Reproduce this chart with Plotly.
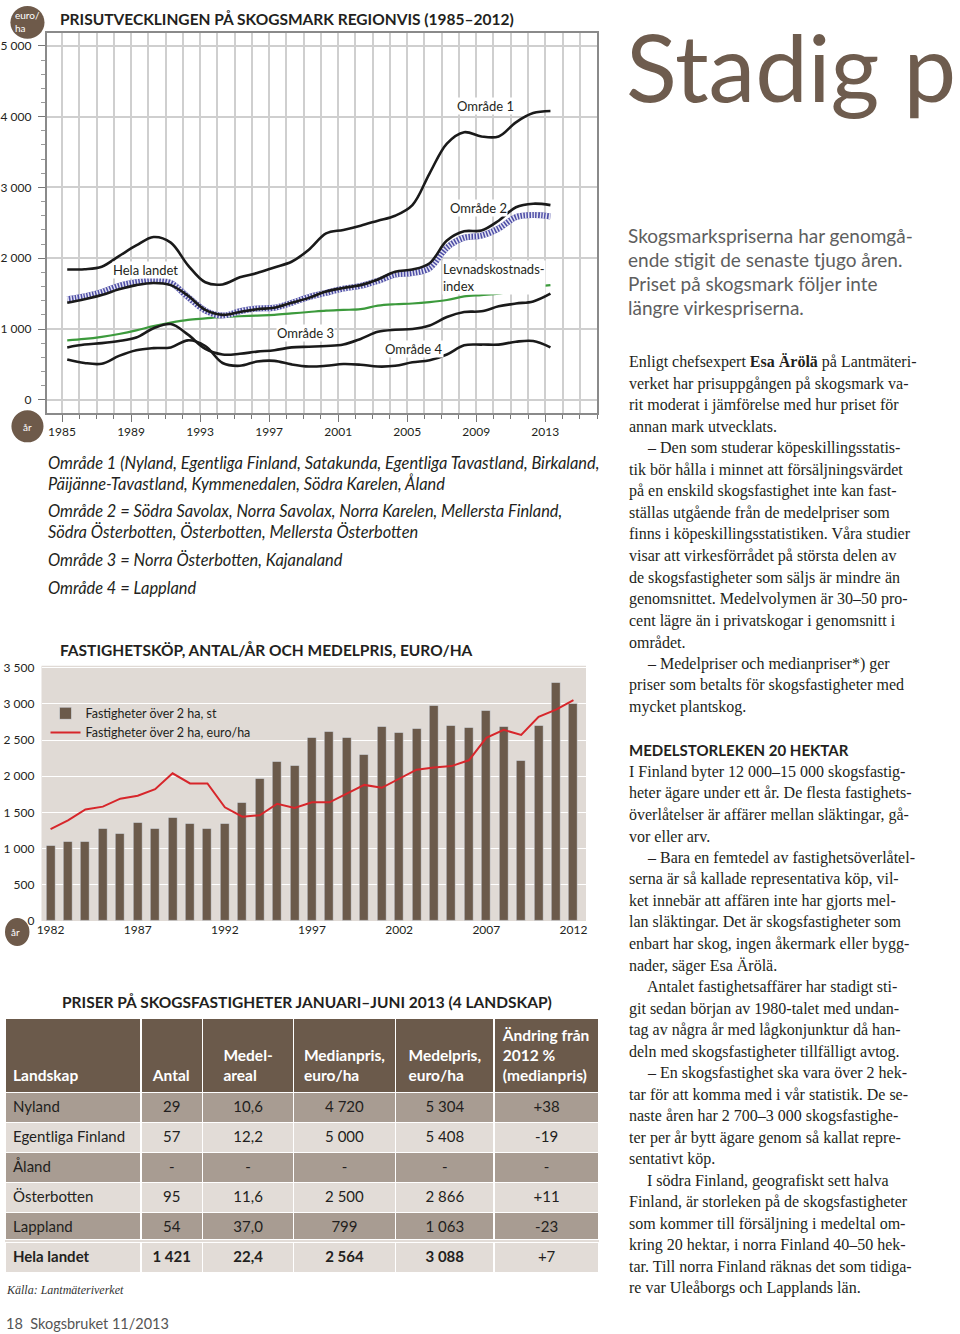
import plotly.graph_objects as go

W, H = 960, 1334
# empirical compensation of the page-capture placement (measured on earlier renders)
XA, XB = 0.991, 5.6
YA, YB = 0.989, 6.2


def px(x):
    return min(W, max(0.0, (x - XB) / XA)) / W


def py(y):
    return 1 - min(H, max(0.0, (y - YB) / YA)) / H


# ---------------- Top chart: price development per region ----------------
years_top = list(range(1985, 2014))
omrade1 = [1840, 1845, 1880, 2030, 2180, 2300, 2220, 1900, 1660, 1630, 1730, 1790, 1870, 1950,
           2120, 2350, 2400, 2460, 2530, 2600, 2750, 3200, 3620, 3780, 3720, 3720, 3920, 4050, 4080]
omrade2 = [1370, 1420, 1480, 1560, 1620, 1650, 1620, 1470, 1270, 1200, 1240, 1280, 1300, 1370,
           1440, 1530, 1580, 1620, 1700, 1810, 1840, 1930, 2250, 2380, 2390, 2530, 2720, 2770, 2750]
hela_landet = [1420, 1460, 1520, 1610, 1660, 1690, 1650, 1450, 1260, 1190, 1250, 1290, 1300, 1370,
               1450, 1510, 1570, 1610, 1680, 1770, 1790, 1860, 2150, 2290, 2320, 2420, 2580, 2610, 2590]
levnadskostnadsindex = [840, 860, 890, 930, 980, 1040, 1090, 1130, 1150, 1170, 1180, 1190, 1200, 1220,
                        1240, 1260, 1270, 1280, 1330, 1350, 1360, 1380, 1410, 1460, 1480, 1500, 1550, 1590, 1620]
omrade3 = [740, 780, 800, 830, 880, 1010, 1070, 920, 720, 640, 650, 680, 700, 740,
           750, 760, 780, 860, 960, 990, 1000, 1050, 1170, 1240, 1250, 1320, 1360, 1390, 1500]
omrade4 = [570, 520, 510, 620, 700, 730, 740, 840, 760, 520, 480, 540, 550, 500,
           470, 480, 505, 495, 470, 480, 530, 560, 640, 770, 780, 780, 820, 830, 740]
top_x_tickvals = [1985, 1989, 1993, 1997, 2001, 2005, 2009, 2013]
top_x_ticktext = ["1985", "1989", "1993", "1997", "2001", "2005", "2009", "2013"]
top_y_tickvals = [0, 1000, 2000, 3000, 4000, 5000]
top_y_ticktext = ["0", "1 000", "2 000", "3 000", "4 000", "5 000"]

# ---------------- Bar chart: purchases per year and mean price ----------------
years_bar = list(range(1982, 2013))
antal_fastigheter = [1040, 1100, 1090, 1270, 1210, 1360, 1270, 1430, 1340, 1270, 1350, 1640, 1970,
                     2200, 2140, 2530, 2620, 2540, 2300, 2680, 2600, 2660, 2980, 2700, 2670, 2900,
                     2680, 2220, 2700, 3300, 3000]
medelpris_euro_ha = [1270, 1390, 1540, 1580, 1690, 1730, 1820, 2040, 1900, 1900, 1570, 1440, 1460,
                     1620, 1560, 1640, 1640, 1760, 1880, 1840, 1970, 2090, 2120, 2140, 2220, 2530,
                     2640, 2570, 2820, 2920, 3050]
bar_x_tickvals = [1982, 1987, 1992, 1997, 2002, 2007, 2012]
bar_x_ticktext = ["1982", "1987", "1992", "1997", "2002", "2007", "2012"]
bar_y_tickvals = [0, 500, 1000, 1500, 2000, 2500, 3000, 3500]
bar_y_ticktext = ["0", "500", "1 000", "1 500", "2 000", "2 500", "3 000", "3 500"]

# ---------------- Table ----------------
landskap = ["Nyland", "Egentliga Finland", "Åland", "Österbotten", "Lappland", "Hela landet"]
antal = [29, 57, None, 95, 54, 1421]
medelareal = [10.6, 12.2, None, 11.6, 37.0, 22.4]
medianpris = [4720, 5000, None, 2500, 799, 2564]
medelpris = [5304, 5408, None, 2866, 1063, 3088]
andring = [38, -19, None, 11, -23, 7]
table_headers = [["", "", "Landskap"], ["", "", "Antal"], ["", "Medel-", "areal"],
                 ["", "Medianpris,", "euro/ha"], ["", "Medelpris,", "euro/ha"],
                 ["Ändring från", "2012 %", "(medianpris)"]]

SANS = "Lato"
SERIF = "Liberation Serif"
BROWN = "#6b5a4b"
TXT = "#231f20"
DARKROW = "#a89c92"
LIGHTROW = "#e2dcd7"


def fmt_int(v):
    if v is None:
        return "-"
    return f"{v:,}".replace(",", " ")


def fmt_dec(v):
    if v is None:
        return "-"
    return f"{v:.1f}".replace(".", ",")


def fmt_sign(v):
    if v is None:
        return "-"
    return f"{v:+d}"


fig = go.Figure()

xt = [y + 0.3 for y in years_top]
fig.add_trace(go.Scatter(x=xt, y=levnadskostnadsindex, mode="lines", line=dict(color="#3c9a3c", width=2.2, shape="spline"),
                         showlegend=False, xaxis="x", yaxis="y", hoverinfo="skip"))
fig.add_trace(go.Scatter(x=xt, y=hela_landet, mode="lines", line=dict(color="#4d4da6", width=6, shape="spline"),
                         showlegend=False, xaxis="x", yaxis="y", hoverinfo="skip"))
fig.add_trace(go.Scatter(x=xt, y=hela_landet, mode="lines",
                         line=dict(color="rgba(255,255,255,0.85)", width=6, shape="spline", dash="1.5px,1.5px"),
                         showlegend=False, xaxis="x", yaxis="y", hoverinfo="skip"))
for series in (omrade1, omrade2, omrade3, omrade4):
    fig.add_trace(go.Scatter(x=xt, y=series, mode="lines", line=dict(color="#1a1a1a", width=2.6, shape="spline"),
                             showlegend=False, xaxis="x", yaxis="y", hoverinfo="skip"))

fig.add_trace(go.Bar(x=years_bar, y=antal_fastigheter, name="Fastigheter över 2 ha, st", marker_color=BROWN,
                     width=0.52, xaxis="x2", yaxis="y2"))
fig.add_trace(go.Scatter(x=years_bar, y=medelpris_euro_ha, name="Fastigheter över 2 ha, euro/ha", mode="lines",
                         line=dict(color="#d7262b", width=2), xaxis="x2", yaxis="y2"))

columns = [
    landskap,
    [fmt_int(v) for v in antal],
    [fmt_dec(v) for v in medelareal],
    [fmt_int(v) for v in medianpris],
    [fmt_int(v) for v in medelpris],
    [fmt_sign(v) for v in andring],
]
nrow = len(landskap)
col_w = [136, 62, 91, 102, 99, 105]
aligns = ["left", "center", "center", "center", "center", "center"]
HDR_H, ROW_H, TOP = 72, 30, 1017
row_colors = [DARKROW if i % 2 == 0 else LIGHTROW for i in range(nrow - 1)]
header_vals = ["<br>".join(l if l else "\u00a0" for l in h) for h in table_headers]
total_top = TOP + (HDR_H + ROW_H * (nrow - 1)) * YA
fig.add_trace(go.Table(
    domain=dict(x=[px(2), px(598)], y=[py(total_top + 2), py(TOP)]),
    columnwidth=col_w,
    header=dict(values=header_vals,
                fill_color=BROWN, font=dict(family=SANS, size=15.5, color="white", weight=700),
                align=aligns, height=HDR_H, line=dict(color="white", width=1.5)),
    cells=dict(values=[c[:-1] for c in columns], fill_color=[row_colors] * 6,
               font=dict(family=SANS, size=15, color=TXT),
               align=aligns, height=ROW_H, line=dict(color="white", width=1.5)),
))
# total row (bold) as a separate one-row table with a hairline header
fig.add_trace(go.Table(
    domain=dict(x=[px(2), px(598)], y=[py(total_top + ROW_H + 8), py(total_top + 2.5)]),
    columnwidth=col_w,
    header=dict(values=[""] * 6, fill_color=LIGHTROW, height=2, line=dict(color=LIGHTROW, width=0)),
    cells=dict(values=[[c[-1]] for c in columns], fill_color=LIGHTROW,
               font=dict(family=SANS, size=15, color=TXT, weight=[700, 700, 700, 700, 700, 400]),
               align=aligns, height=ROW_H, line=dict(color="white", width=1.5)),
))

axis_font = dict(family=SANS, size=12, color=TXT)
fig.update_layout(
    width=W, height=H, autosize=False,
    margin=dict(l=0, r=0, t=0, b=0),
    paper_bgcolor="white", plot_bgcolor="white",
    showlegend=True,
    legend=dict(x=px(46), y=py(698), xanchor="left", yanchor="top", bgcolor="rgba(0,0,0,0)",
                font=dict(family=SANS, size=12.5, color=TXT), tracegroupgap=0, itemwidth=30),
    xaxis=dict(domain=[px(47), px(596)], anchor="y", range=[1984.1, 2016.0],
               tickmode="array", tickvals=top_x_tickvals, ticktext=top_x_ticktext,
               ticks="outside", ticklen=7, tickcolor="#777", showgrid=True, gridcolor="#cfcfcf", gridwidth=1.5,
               minor=dict(dtick=1, tick0=1985, ticks="outside", ticklen=4, tickcolor="#777", showgrid=True,
                          gridcolor="#cfcfcf", gridwidth=1.5),
               showline=True, linecolor="#8a8a8a", linewidth=1.5, mirror=True, zeroline=False,
               tickfont=axis_font, fixedrange=True),
    yaxis=dict(domain=[py(413), py(33)], anchor="x", range=[-191, 5184],
               tickmode="array", tickvals=top_y_tickvals, ticktext=top_y_ticktext,
               ticks="outside", ticklen=7, tickcolor="#777",
               minor=dict(dtick=200, tick0=0, ticks="outside", ticklen=4, tickcolor="#999", showgrid=False),
               showgrid=True, gridcolor="#cfcfcf", gridwidth=1.5, zeroline=False,
               showline=True, linecolor="#8a8a8a", linewidth=1.5, mirror=True,
               tickfont=axis_font, ticklabelstandoff=4, fixedrange=True),
    xaxis2=dict(domain=[px(42), px(585)], anchor="y2", range=[1981.48, 2012.72],
                tickmode="array", tickvals=bar_x_tickvals, ticktext=bar_x_ticktext,
                ticks="", showgrid=False, zeroline=False, showline=False, tickfont=axis_font, fixedrange=True),
    yaxis2=dict(domain=[py(920), py(665)], anchor="x2", range=[0, 3528],
                tickmode="array", tickvals=bar_y_tickvals, ticktext=bar_y_ticktext,
                ticks="", showgrid=True, gridcolor="white", gridwidth=1, zeroline=False, showline=False,
                tickfont=axis_font, ticklabelstandoff=6, fixedrange=True),
    bargap=0,
)

# bar chart background
fig.add_shape(type="rect", xref="x2 domain", yref="y2 domain", x0=0, x1=1, y0=0, y1=1,
              fillcolor="#e0dad5", line_width=0, layer="below")

# circles
for cx, cy, r in [(28, 22, 17), (28, 426, 16), (16, 931, 14)]:
    fig.add_shape(type="circle", xref="paper", yref="paper", x0=px(cx - r), x1=px(cx + r),
                  y0=py(cy + r), y1=py(cy - r), fillcolor="#6e5a4a", line_width=0)

annotations = []


def ann(x, y, text, size=12, family=SANS, color=TXT, xanchor="left", bg=None, yanchor="middle"):
    d = dict(x=px(x), y=py(y), xref="paper", yref="paper", text=text, showarrow=False, align="left",
             xanchor=xanchor, yanchor=yanchor, font=dict(family=family, size=size, color=color), borderpad=0)
    if bg:
        d["bgcolor"] = bg
    annotations.append(d)


ann(28, 22, "euro/<br>ha", size=10, color="white", xanchor="center")
ann(28, 427, "år", size=10, color="white", xanchor="center")
ann(16, 931, "år", size=10, color="white", xanchor="center")

ann(59, 19, "<b>PRISUTVECKLINGEN PÅ SKOGSMARK REGIONVIS (1985–2012)</b>", size=15.5)
ann(59, 649, "<b>FASTIGHETSKÖP, ANTAL/ÅR OCH MEDELPRIS, EURO/HA</b>", size=15.5)
ann(61, 1001, "<b>PRISER PÅ SKOGSFASTIGHETER JANUARI–JUNI 2013 (4 LANDSKAP)</b>", size=15.5)

# line labels in top chart
ann(455, 106, "Område 1", size=13, bg="white")
ann(448, 208, "Område 2", size=13, bg="white")
ann(112, 270, "Hela landet", size=13, bg="white")
ann(441, 277, "Levnadskostnads-<br>index", size=13, bg="white")
ann(276, 333, "Område 3", size=13, bg="white")
ann(384, 349, "Område 4", size=13, bg="white")

# region explanations
region_lines = [
    (462, "Område 1 (Nyland, Egentliga Finland, Satakunda, Egentliga Tavastland, Birkaland,"),
    (483, "Päijänne-Tavastland, Kymmenedalen, Södra Karelen, Åland"),
    (510, "Område 2 = Södra Savolax, Norra Savolax, Norra Karelen, Mellersta Finland,"),
    (531, "Södra Österbotten, Österbotten, Mellersta Österbotten"),
    (559, "Område 3 = Norra Österbotten, Kajanaland"),
    (587, "Område 4 = Lappland"),
]
for y, t in region_lines:
    ann(47, y, "<i>" + t + "</i>", size=16.4)

# right column
ann(624, 66, "Stadig p", size=94, color="#6e5c4e")
lead = ["Skogsmarkspriserna har genomgå-", "ende stigit de senaste tjugo åren.",
        "Priset på skogsmark följer inte", "längre virkespriserna."]
for i, t in enumerate(lead):
    ann(626, 235 + 24 * i, t, size=19, color="#5e5e5e")

body1 = [
    "Enligt chefsexpert <b>Esa Ärölä</b> på Lantmäteri-",
    "verket har prisuppgången på skogsmark va-",
    "rit moderat i jämförelse med hur priset för",
    "annan mark utvecklats.",
    "\t– Den som studerar köpeskillingsstatis-",
    "tik bör hålla i minnet att försäljningsvärdet",
    "på en enskild skogsfastighet inte kan fast-",
    "ställas utgående från de medelpriser som",
    "finns i köpeskillingsstatistiken. Våra studier",
    "visar att virkesförrådet på största delen av",
    "de skogsfastigheter som säljs är mindre än",
    "genomsnittet. Medelvolymen är 30–50 pro-",
    "cent lägre än i privatskogar i genomsnitt i",
    "området.",
    "\t– Medelpriser och medianpriser*) ger",
    "priser som betalts för skogsfastigheter med",
    "mycket plantskog.",
]
body2 = [
    "I Finland byter 12 000–15 000 skogsfastig-",
    "heter ägare under ett år. De flesta fastighets-",
    "överlåtelser är affärer mellan släktingar, gå-",
    "vor eller arv.",
    "\t– Bara en femtedel av fastighetsöverlåtel-",
    "serna är så kallade representativa köp, vil-",
    "ket innebär att affären inte har gjorts mel-",
    "lan släktingar. Det är skogsfastigheter som",
    "enbart har skog, ingen åkermark eller bygg-",
    "nader, säger Esa Ärölä.",
    "\tAntalet fastighetsaffärer har stadigt sti-",
    "git sedan början av 1980-talet med undan-",
    "tag av några år med lågkonjunktur då han-",
    "deln med skogsfastigheter tillfälligt avtog.",
    "\t– En skogsfastighet ska vara över 2 hek-",
    "tar för att komma med i vår statistik. De se-",
    "naste åren har 2 700–3 000 skogsfastighe-",
    "ter per år bytt ägare genom så kallat repre-",
    "sentativt köp.",
    "\tI södra Finland, geografiskt sett halva",
    "Finland, är storleken på de skogsfastigheter",
    "som kommer till försäljning i medeltal om-",
    "kring 20 hektar, i norra Finland 40–50 hek-",
    "tar. Till norra Finland räknas det som tidiga-",
    "re var Uleåborgs och Lapplands län.",
]
LH = 21.5
for i, t in enumerate(body1):
    indent = t.startswith("\t")
    ann(645 if indent else 627, 362 + LH * i, t.lstrip("\t"), size=16, family=SERIF)
ann(627, 749, "<b>MEDELSTORLEKEN 20 HEKTAR</b>", size=15)
for i, t in enumerate(body2):
    indent = t.startswith("\t")
    ann(645 if indent else 627, 771 + LH * i, t.lstrip("\t"), size=16, family=SERIF)

ann(2, 1289, "<i>Källa: Lantmäteriverket</i>", size=12, family=SERIF, color="#333")
ann(2, 1322, "18  Skogsbruket 11/2013", size=14.5, color="#555")

fig.update_layout(annotations=annotations)

reset_css = ("var s=document.documentElement.style;s.margin='0';s.padding='0';s.overflow='hidden';"
             "var b=document.body.style;b.margin='0';b.padding='0';b.overflow='hidden';")
fig.write_html("out.html", config={"displayModeBar": False}, post_script=reset_css)
